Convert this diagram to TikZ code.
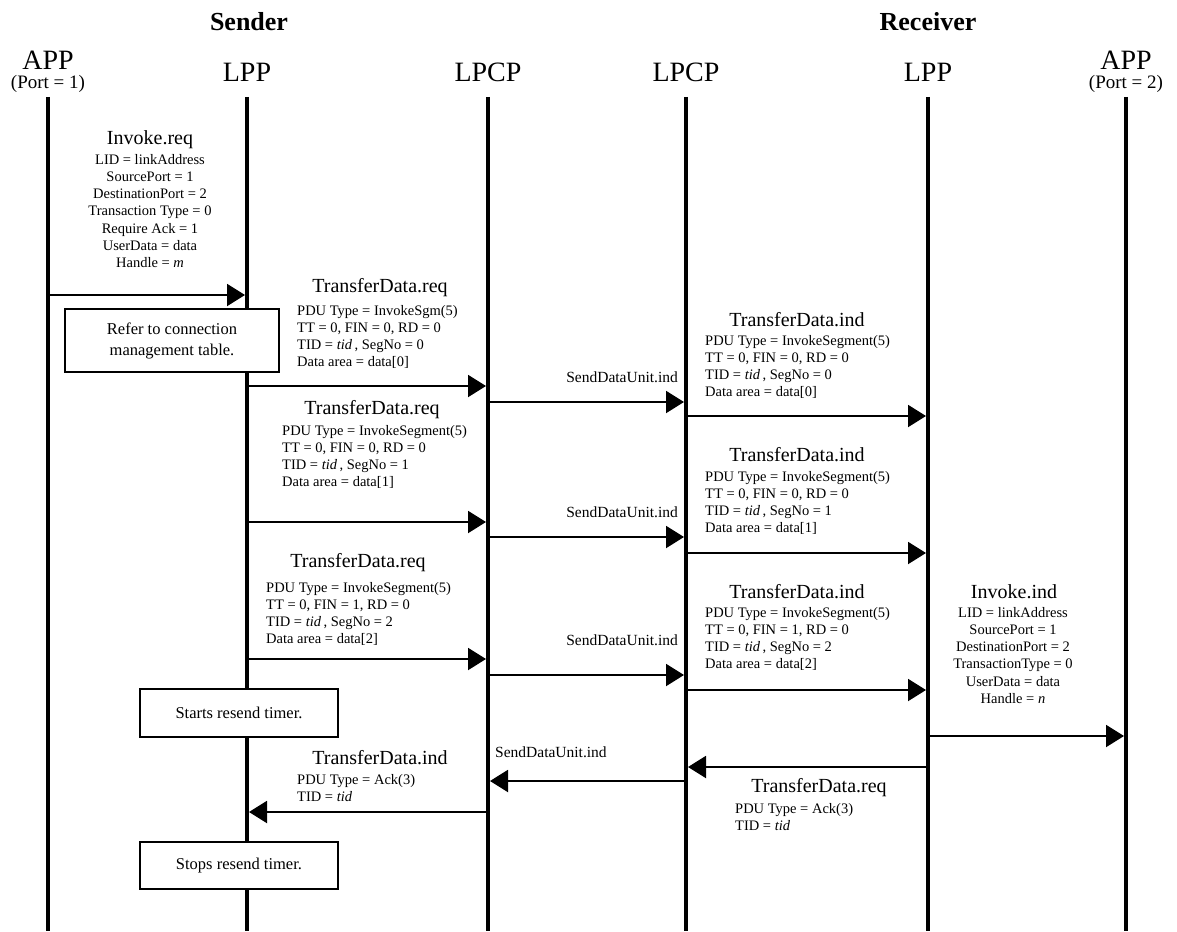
\documentclass[tikz,border=0pt]{standalone}
\usepackage{fontspec}
\setmainfont{Liberation Serif}
\usetikzlibrary{arrows.meta, positioning}

\begin{document}
\begin{tikzpicture}[
    x=1pt, y=-1pt,
    hdr/.style={font=\fontsize{28}{30}\selectfont, inner sep=0pt},
    side/.style={font=\bfseries\fontsize{26}{28}\selectfont, inner sep=0pt},
    port/.style={font=\fontsize{19}{21}\selectfont, inner sep=0pt},
    prim/.style={font=\fontsize{20}{22}\selectfont, inner sep=0pt},
    parm/.style={font=\fontsize{14.5}{17.2}\selectfont, align=left, inner sep=0pt},
    parmc/.style={parm, align=center},
    sdu/.style={font=\fontsize{15.5}{17}\selectfont, inner sep=0pt},
    note/.style={rectangle, draw, line width=1.6pt, fill=white, align=center, font=\fontsize{16.5}{21}\selectfont},
    life/.style={line width=4pt},
    msg/.style={line width=2pt, -{Triangle[length=18pt, width=22pt]}, shorten >=2pt},
]
\useasboundingbox (0,0) rectangle (1177,931);

% Column headers
\node[side] (sender) at (249,22) {Sender};
\node[side] (receiver) at (928,22) {Receiver};
\node[hdr] (h-app1) at (48,60) {APP};
\node[port] (h-port1) at (48,84) {(Port = 1)};
\node[hdr] (h-lpp1) at (247,72) {LPP};
\node[hdr] (h-lpcp1) at (488,72) {LPCP};
\node[hdr] (h-lpcp2) at (686,72) {LPCP};
\node[hdr] (h-lpp2) at (928,72) {LPP};
\node[hdr] (h-app2) at (1126,60) {APP};
\node[port] (h-port2) at (1126,84) {(Port = 2)};

% Lifelines
\coordinate (app1) at (48,97);
\coordinate (lpp1) at (247,97);
\coordinate (lpcp1) at (488,97);
\coordinate (lpcp2) at (686,97);
\coordinate (lpp2) at (928,97);
\coordinate (app2) at (1126,97);
\coordinate (bot) at (0,931);
\foreach \c in {app1,lpp1,lpcp1,lpcp2,lpp2,app2}
    \draw[life] (\c) -- (\c |- bot);

% Invoke request from the sending application
\node[prim] (inv-req) at (150,140) {Invoke.req};
\node[parmc, anchor=north] (inv-req-p) at (150,154) {LID = linkAddress\\SourcePort = 1\\DestinationPort = 2\\Transaction Type = 0\\Require Ack = 1\\UserData = data\\Handle = \textit{m}};
\draw[msg] (app1 |- 0,295) -- (lpp1 |- 0,295);

% Segment 0
\node[prim] (req0) at (380,288) {TransferData.req};
\node[parm, anchor=north west] (req0-p) at (297,305) {PDU Type = InvokeSgm(5)\\TT = 0, FIN = 0, RD = 0\\TID = \textit{tid}\,, SegNo = 0\\Data area = data[0]};
\draw[msg] (lpp1 |- 0,386) -- (lpcp1 |- 0,386);
\node[sdu, anchor=east] (sdu0) at (678,377) {SendDataUnit.ind};
\draw[msg] (lpcp1 |- 0,402) -- (lpcp2 |- 0,402);
\node[prim] (ind0) at (797,320) {TransferData.ind};
\node[parm, anchor=north west] (ind0-p) at (705,335) {PDU Type = InvokeSegment(5)\\TT = 0, FIN = 0, RD = 0\\TID = \textit{tid}\,, SegNo = 0\\Data area = data[0]};
\draw[msg] (lpcp2 |- 0,416) -- (lpp2 |- 0,416);

% Segment 1
\node[prim] (req1) at (372,410) {TransferData.req};
\node[parm, anchor=north west] (req1-p) at (282,425) {PDU Type = InvokeSegment(5)\\TT = 0, FIN = 0, RD = 0\\TID = \textit{tid}\,, SegNo = 1\\Data area = data[1]};
\draw[msg] (lpp1 |- 0,522) -- (lpcp1 |- 0,522);
\node[sdu, anchor=east] (sdu1) at (678,512) {SendDataUnit.ind};
\draw[msg] (lpcp1 |- 0,537) -- (lpcp2 |- 0,537);
\node[prim] (ind1) at (797,455) {TransferData.ind};
\node[parm, anchor=north west] (ind1-p) at (705,471) {PDU Type = InvokeSegment(5)\\TT = 0, FIN = 0, RD = 0\\TID = \textit{tid}\,, SegNo = 1\\Data area = data[1]};
\draw[msg] (lpcp2 |- 0,553) -- (lpp2 |- 0,553);

% Segment 2 (last one, FIN = 1)
\node[prim] (req2) at (358,563) {TransferData.req};
\node[parm, anchor=north west] (req2-p) at (266,582) {PDU Type = InvokeSegment(5)\\TT = 0, FIN = 1, RD = 0\\TID = \textit{tid}\,, SegNo = 2\\Data area = data[2]};
\draw[msg] (lpp1 |- 0,659) -- (lpcp1 |- 0,659);
\node[sdu, anchor=east] (sdu2) at (678,640) {SendDataUnit.ind};
\draw[msg] (lpcp1 |- 0,675) -- (lpcp2 |- 0,675);
\node[prim] (ind2) at (797,592) {TransferData.ind};
\node[parm, anchor=north west] (ind2-p) at (705,607) {PDU Type = InvokeSegment(5)\\TT = 0, FIN = 1, RD = 0\\TID = \textit{tid}\,, SegNo = 2\\Data area = data[2]};
\draw[msg] (lpcp2 |- 0,690) -- (lpp2 |- 0,690);

% Delivery to the receiving application
\node[prim] (inv-ind) at (1014,592) {Invoke.ind};
\node[parmc, anchor=north] (inv-ind-p) at (1013,607) {LID = linkAddress\\SourcePort = 1\\DestinationPort = 2\\TransactionType = 0\\UserData = data\\Handle = \textit{n}};
\draw[msg] (lpp2 |- 0,736) -- (app2 |- 0,736);

% Acknowledgement back to the sender
\draw[msg] (lpp2 |- 0,767) -- (lpcp2 |- 0,767);
\node[prim] (ack-req) at (819,788) {TransferData.req};
\node[parm, anchor=north west] (ack-req-p) at (735,803) {PDU Type = Ack(3)\\TID = \textit{tid}};
\node[sdu, anchor=west] (sdu3) at (495,752) {SendDataUnit.ind};
\draw[msg] (lpcp2 |- 0,781) -- (lpcp1 |- 0,781);
\node[prim] (ack-ind) at (380,758) {TransferData.ind};
\node[parm, anchor=north west] (ack-ind-p) at (297,774) {PDU Type = Ack(3)\\TID = \textit{tid}};
\draw[msg] (lpcp1 |- 0,812) -- (lpp1 |- 0,812);

% Local actions of the sending LPP
\node[note, minimum width=214pt, minimum height=63pt] (lookup) at (172,340.5) {Refer to connection\\management table.};
\node[note, minimum width=198pt, minimum height=48pt] (tstart) at (239,713) {Starts resend timer.};
\node[note, minimum width=198pt, minimum height=47pt] (tstop) at (239,865.5) {Stops resend timer.};

\end{tikzpicture}
\end{document}
